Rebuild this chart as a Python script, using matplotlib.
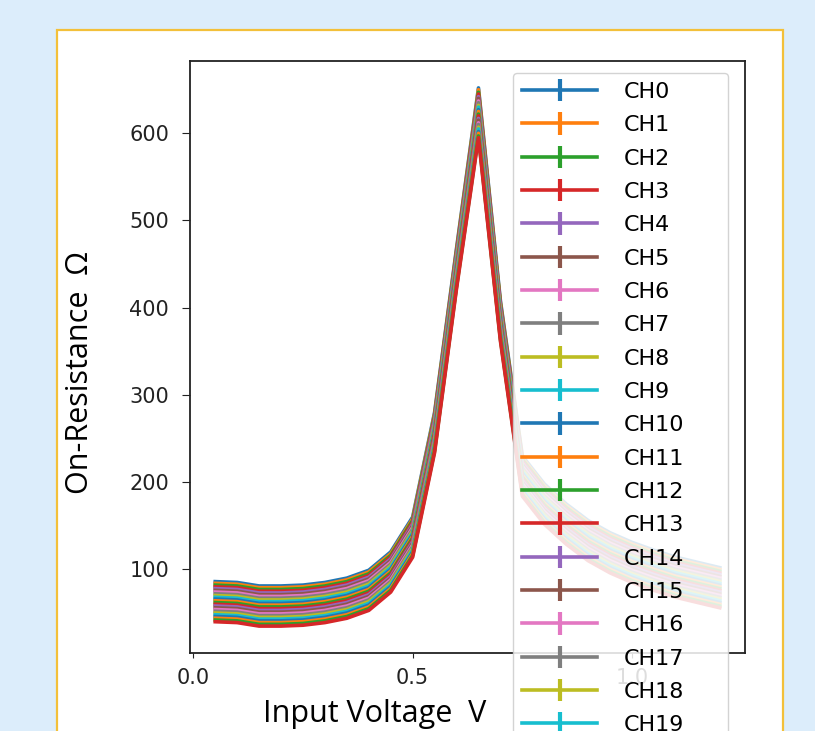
import matplotlib
matplotlib.use("Agg")
import matplotlib.pyplot as plt
from matplotlib.patches import Rectangle

# input voltage sweep (V)
voltage = [0.05, 0.10, 0.15, 0.20, 0.25, 0.30, 0.35, 0.40, 0.45, 0.50, 0.55, 0.60,
           0.65, 0.70, 0.75, 0.80, 0.85, 0.90, 0.95, 1.00, 1.05, 1.10, 1.15, 1.20]

# on-resistance per channel (ohm)
ch00 = [86, 85, 81, 81, 82, 85, 90, 99, 120, 160, 280, 468, 652, 408, 230, 198, 175, 156, 142, 131, 122, 114, 108, 102]
ch01 = [84, 83, 79, 79, 80, 83, 88, 97, 118, 158, 278, 466, 650, 406, 228, 196, 173, 154, 140, 129, 120, 112, 106, 100]
ch02 = [82, 81, 77, 77, 78, 81, 86, 95, 116, 156, 276, 464, 647, 404, 226, 194, 171, 152, 138, 127, 118, 110, 104, 98]
ch03 = [80, 79, 75, 75, 76, 79, 84, 93, 114, 154, 274, 462, 645, 402, 224, 192, 169, 150, 136, 125, 116, 108, 102, 96]
ch04 = [78, 77, 73, 73, 74, 77, 82, 91, 112, 152, 272, 460, 642, 400, 222, 190, 167, 148, 134, 123, 114, 106, 100, 94]
ch05 = [76, 75, 71, 71, 72, 75, 80, 89, 110, 150, 270, 458, 640, 398, 220, 188, 165, 146, 132, 121, 112, 104, 98, 92]
ch06 = [74, 73, 69, 69, 70, 73, 78, 87, 108, 148, 268, 456, 637, 396, 218, 186, 163, 144, 130, 119, 110, 102, 96, 90]
ch07 = [72, 71, 67, 67, 68, 71, 76, 85, 106, 146, 266, 454, 635, 394, 216, 184, 161, 142, 128, 117, 108, 100, 94, 88]
ch08 = [70, 69, 65, 65, 66, 69, 74, 83, 104, 144, 264, 452, 632, 392, 214, 182, 159, 140, 126, 115, 106, 98, 92, 86]
ch09 = [68, 67, 63, 63, 64, 67, 72, 81, 102, 142, 262, 450, 630, 390, 212, 180, 157, 138, 124, 113, 104, 96, 90, 84]
ch10 = [66, 65, 61, 61, 62, 65, 70, 79, 100, 140, 260, 448, 627, 388, 210, 178, 155, 136, 122, 111, 102, 94, 88, 82]
ch11 = [64, 63, 59, 59, 60, 63, 68, 77, 98, 138, 258, 446, 625, 386, 208, 176, 153, 134, 120, 109, 100, 92, 86, 80]
ch12 = [62, 61, 57, 57, 58, 61, 66, 75, 96, 136, 256, 444, 622, 384, 206, 174, 151, 132, 118, 107, 98, 90, 84, 78]
ch13 = [60, 59, 55, 55, 56, 59, 64, 73, 94, 134, 254, 442, 620, 382, 204, 172, 149, 130, 116, 105, 96, 88, 82, 76]
ch14 = [58, 57, 53, 53, 54, 57, 62, 71, 92, 132, 252, 440, 617, 380, 202, 170, 147, 128, 114, 103, 94, 86, 80, 74]
ch15 = [56, 55, 51, 51, 52, 55, 60, 69, 90, 130, 250, 438, 615, 378, 200, 168, 145, 126, 112, 101, 92, 84, 78, 72]
ch16 = [54, 53, 49, 49, 50, 53, 58, 67, 88, 128, 248, 436, 612, 376, 198, 166, 143, 124, 110, 99, 90, 82, 76, 70]
ch17 = [52, 51, 47, 47, 48, 51, 56, 65, 86, 126, 246, 434, 610, 374, 196, 164, 141, 122, 108, 97, 88, 80, 74, 68]
ch18 = [50, 49, 45, 45, 46, 49, 54, 63, 84, 124, 244, 432, 607, 372, 194, 162, 139, 120, 106, 95, 86, 78, 72, 66]
ch19 = [48, 47, 43, 43, 44, 47, 52, 61, 82, 122, 242, 430, 605, 370, 192, 160, 137, 118, 104, 93, 84, 76, 70, 64]
ch20 = [46, 45, 41, 41, 42, 45, 50, 59, 80, 120, 240, 428, 602, 368, 190, 158, 135, 116, 102, 91, 82, 74, 68, 62]
ch21 = [44, 43, 39, 39, 40, 43, 48, 57, 78, 118, 238, 426, 600, 366, 188, 156, 133, 114, 100, 89, 80, 72, 66, 60]
ch22 = [42, 41, 37, 37, 38, 41, 46, 55, 76, 116, 236, 424, 597, 364, 186, 154, 131, 112, 98, 87, 78, 70, 64, 58]
ch23 = [40, 39, 35, 35, 36, 39, 44, 53, 74, 114, 234, 422, 595, 362, 184, 152, 129, 110, 96, 85, 76, 68, 62, 56]

channels = [ch00, ch01, ch02, ch03, ch04, ch05, ch06, ch07, ch08, ch09, ch10, ch11,
            ch12, ch13, ch14, ch15, ch16, ch17, ch18, ch19, ch20, ch21, ch22, ch23]
labels = ["CH%d" % i for i in range(len(channels))]
n_legend = 20  # entries that fit on the slide before it is cut off

W, H = 815, 731
fig = plt.figure(figsize=(W / 100, H / 100), dpi=100, facecolor="#dcedfb")

# white slide panel with the gold outline (kept behind the axes)
fig.patches.append(Rectangle((57 / W, -0.02), (783 - 57) / W, 0.02 + (H - 30) / H,
                             transform=fig.transFigure, facecolor="white",
                             edgecolor="#f3c03a", lw=1.6, zorder=-5))

ax = fig.add_axes([190 / W, 78 / H, 555 / W, 592 / H])
handles = []
for vals, lab in zip(channels, labels):
    h = ax.errorbar(voltage, vals, yerr=0, label=lab, lw=2.6, elinewidth=3)
    handles.append(h)

ax.set_xticks([0.0, 0.5, 1.0])
ax.set_yticks([100, 200, 300, 400, 500, 600])
ax.tick_params(axis="x", labelsize=15, length=3.5, pad=7, colors="#222222")
ax.tick_params(axis="y", labelsize=15, length=6, pad=9, colors="#222222")
for sp in ax.spines.values():
    sp.set_color("#222222")
    sp.set_linewidth(1.3)

# tall legend runs past the bottom of the slide, as in the screenshot
ax.legend(handles[:n_legend], labels[:n_legend], loc="upper left",
          bbox_to_anchor=(513 / W, 0, 215 / W, (H - 73) / H),
          bbox_transform=fig.transFigure, mode="expand", borderaxespad=0,
          fontsize=16, handlelength=3.4, handletextpad=1.2, labelspacing=0.6,
          framealpha=0.85)

fig.text(80 / W, 1 - 373 / H, "On-Resistance  Ω", rotation=90, ha="center", va="center",
         fontsize=22, family=["Open Sans", "DejaVu Sans"])
fig.text(375 / W, 9 / H, "Input Voltage  V", ha="center", va="baseline",
         fontsize=22, family=["Open Sans", "DejaVu Sans"])

fig.savefig("out.png", dpi=100, facecolor=fig.get_facecolor())
